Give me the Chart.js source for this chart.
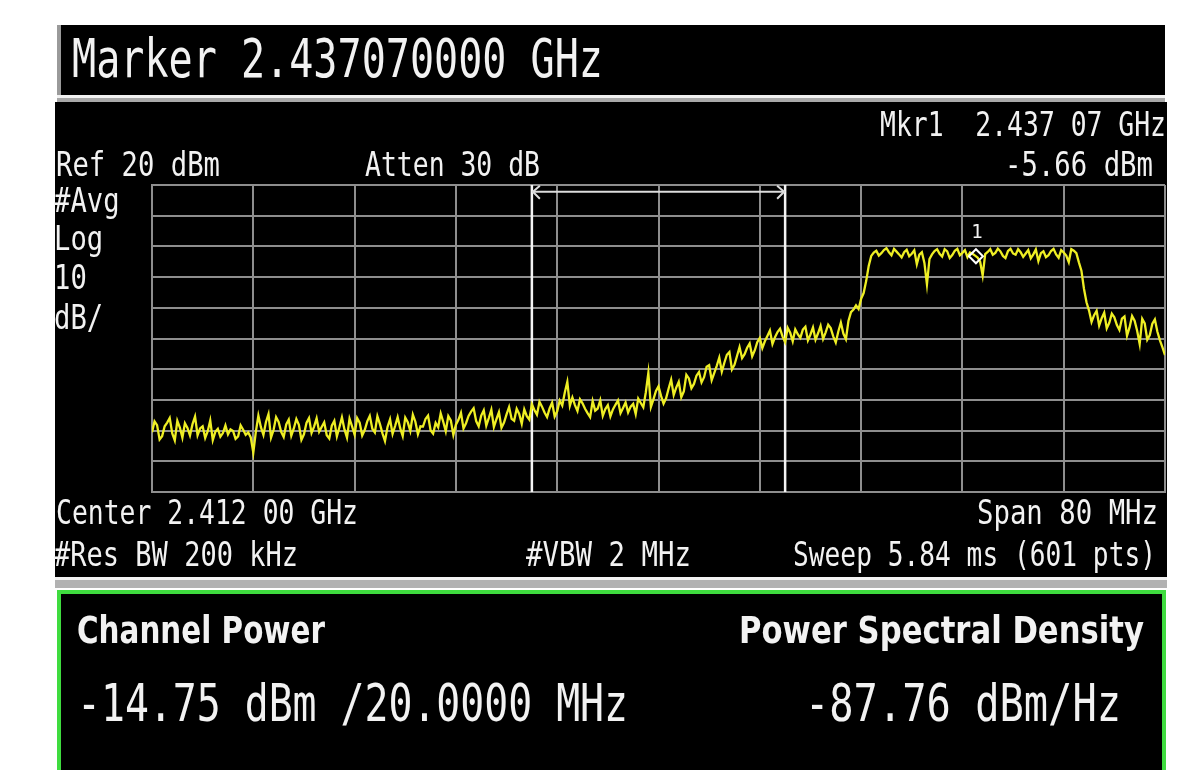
<!DOCTYPE html>
<html>
<head>
<meta charset="utf-8">
<title>Channel Power</title>
<script src="https://cdn.jsdelivr.net/npm/chart.js@4.4.1/dist/chart.umd.min.js"></script>
<style>
  html, body { margin: 0; padding: 0; background: #fff; }
  canvas { display: block; }
</style>
</head>
<body>
<canvas id="spectrum" width="1182" height="770"></canvas>
<script>
// sweep: center 2412 MHz, span 80 MHz, ref 20 dBm, 10 dB/div
const sweepStartMHz = 2372;
const sweepStopMHz = 2452;

// trace level, one value every 0.2 MHz
const levelDbm = [
  -60.5, -57.0, -58.2, -62.9, -61.8, -58.6, -57.4, -55.9, -60.9, -63.2,
  -56.8, -59.0, -62.3, -57.6, -59.1, -61.6, -57.9, -55.4, -61.5, -59.3,
  -58.6, -62.4, -60.2, -56.7, -63.1, -60.4, -59.4, -62.0, -60.8, -58.3,
  -61.2, -59.6, -60.1, -62.7, -61.9, -58.3, -59.7, -61.4, -60.6, -62.2,
  -67.2, -60.4, -55.1, -58.9, -61.4, -57.2, -54.6, -62.3, -59.8, -55.6,
  -57.2, -60.4, -62.1, -58.0, -56.4, -61.7, -59.3, -56.2, -58.1, -63.0,
  -61.2, -57.5, -55.9, -60.8, -58.7, -56.0, -60.4, -58.8, -57.3, -61.5,
  -62.6, -58.4, -56.8, -61.9, -58.9, -55.7, -59.6, -62.3, -56.1, -58.6,
  -61.3, -55.9, -57.4, -61.6, -59.8, -57.0, -55.2, -59.4, -60.6, -55.3,
  -57.9, -60.9, -63.4, -58.8, -56.3, -61.1, -58.5, -55.6, -59.2, -61.8,
  -55.8, -57.3, -60.1, -54.8, -57.1, -61.2, -58.6, -58.7, -56.2, -55.1,
  -59.9, -61.0, -57.5, -58.9, -54.4, -57.1, -60.2, -55.3, -56.7, -61.4,
  -58.1, -56.5, -54.2, -59.3, -57.6, -55.2, -53.8, -52.7, -56.9, -58.6,
  -55.1, -53.4, -58.4, -55.9, -53.2, -58.8, -56.3, -54.0, -59.1, -57.4,
  -54.7, -52.3, -56.2, -56.8, -52.9, -54.6, -57.8, -53.1, -55.3, -56.4,
  -51.4, -53.3, -54.8, -50.6, -52.2, -54.1, -55.6, -52.8, -50.9, -55.4,
  -53.7, -50.2, -51.8, -47.6, -44.1, -51.9, -49.2, -51.7, -53.6, -49.8,
  -51.1, -52.9, -54.3, -55.6, -50.4, -53.5, -52.8, -50.1, -55.2, -53.0,
  -51.7, -55.4, -53.1, -51.6, -50.2, -54.3, -52.6, -50.8, -54.1, -52.2,
  -51.3, -54.6, -49.6, -51.0, -52.4, -47.5, -41.2, -52.3, -49.8, -47.1,
  -45.6, -48.7, -51.2, -49.5, -46.3, -43.4, -48.4, -46.0, -44.1, -49.1,
  -47.2, -41.8, -43.0, -46.2, -44.8, -42.1, -40.9, -44.3, -42.6, -39.2,
  -38.7, -43.6, -41.3, -38.9, -36.2, -40.8, -37.9, -35.3, -34.4, -40.1,
  -38.6, -35.7, -32.8, -36.4, -35.1, -33.0, -31.6, -35.8, -33.9, -31.2,
  -29.8, -33.1, -30.9, -29.2, -27.4, -31.8, -29.6, -27.9, -26.8, -29.4,
  -31.2, -26.5, -28.1, -30.9, -27.0, -28.6, -29.8, -27.1, -26.2, -30.6,
  -28.7, -26.4, -30.4, -28.3, -25.9, -30.1, -28.0, -25.5, -26.6, -29.3,
  -31.3, -27.7, -24.8, -28.4, -30.2, -24.3, -21.4, -20.6, -19.2, -20.4,
  -17.1, -15.2, -11.3, -6.4, -3.1, -2.0, -1.4, -3.0, -2.2, -1.2,
  -0.6, -1.9, -2.9, -0.8, -1.7, -2.6, -3.6, -1.9, -1.1, -3.2,
  -2.4, -1.3, -5.8, -2.7, -1.9, -5.4, -12.4, -4.1, -2.6, -1.5,
  -0.9, -2.4, -3.3, -0.9, -1.6, -3.8, -2.8, -1.4, -0.8, -2.9,
  -2.1, -1.2, -3.5, -2.0, -2.4, -3.0, -3.6, -5.0, -9.5, -2.5,
  -1.8, -0.9, -2.7, -2.1, -0.7, -1.6, -3.1, -3.8, -1.5, -0.8,
  -2.3, -2.7, -0.9, -1.9, -3.4, -2.3, -1.2, -3.9, -2.6, -1.0,
  -4.8, -2.2, -1.6, -3.5, -2.9, -1.5, -0.8, -2.6, -3.7, -1.2,
  -2.0, -3.0, -5.1, -0.9, -1.4, -2.2, -5.2, -7.9, -13.8, -18.2,
  -20.9, -24.6, -22.4, -21.0, -25.8, -23.4, -21.6, -26.7, -24.9, -21.9,
  -23.1, -25.6, -27.2, -23.5, -22.8, -29.1, -26.4, -22.7, -24.2, -27.5,
  -31.8, -23.6, -25.1, -30.4, -28.9, -25.2, -23.8, -27.8, -30.6, -32.9,
  -35.4
];

const channelEdgesMHz = [2402, 2422];
const markerMHz = [2437.07];
const markerDbm = [-3.2];

const freqMHz = levelDbm.map((_, i) =>
  sweepStartMHz + i * (sweepStopMHz - sweepStartMHz) / (levelDbm.length - 1));

const MONO = '"DejaVu Sans Mono", monospace';
const SANS = '"DejaVu Sans", sans-serif';

// draw text squeezed to span x0..x1 (the analyzer font is narrow)
function fit(c, txt, x0, x1, y, size, family, weight) {
  c.font = (weight || 'normal') + ' ' + size + 'px ' + family;
  const w = c.measureText(txt).width;
  c.save();
  c.translate(x0, y);
  c.scale((x1 - x0) / w, 1);
  c.fillText(txt, 0, 0);
  c.restore();
}

function put(c, txt, x, y, size, sx) {
  c.font = size + 'px ' + MONO;
  c.save();
  c.translate(x, y);
  c.scale(sx, 1);
  c.fillText(txt, 0, 0);
  c.restore();
}

const panel = {
  id: 'panel',
  beforeDraw(chart) {
    const c = chart.ctx;
    c.save();
    c.fillStyle = '#fff';
    c.fillRect(0, 0, chart.width, chart.height);
    // title bar
    c.fillStyle = '#000';
    c.fillRect(57, 25, 1108, 70);
    c.fillStyle = '#9a9a9a';
    c.fillRect(57, 25, 4, 70);
    c.fillStyle = '#f2f2f2';
    c.fillRect(57, 95, 1108, 3);
    c.fillStyle = '#a8a8a8';
    c.fillRect(57, 98, 1108, 4);
    // trace panel
    c.fillStyle = '#000';
    c.fillRect(55, 102, 1112, 475);
    c.fillStyle = '#f2f2f2';
    c.fillRect(55, 577, 1112, 3);
    c.fillStyle = '#b2b2b2';
    c.fillRect(55, 580, 1112, 8);
    // result box
    c.fillStyle = '#000';
    c.fillRect(57, 590, 1109, 185);
    c.strokeStyle = '#3fdc3f';
    c.lineWidth = 4;
    c.strokeRect(59, 592, 1105, 190);
    c.restore();
  },
  afterDraw(chart) {
    const c = chart.ctx;
    const xs = chart.scales.x, ys = chart.scales.y;
    c.save();
    c.fillStyle = '#f2f2f2';
    c.textBaseline = 'alphabetic';

    fit(c, 'Marker 2.437070000 GHz', 72, 603, 77, 54, MONO);

    fit(c, 'Mkr1  2.437 07 GHz', 880, 1166, 136, 33, MONO);
    fit(c, 'Ref 20 dBm', 56, 220, 176, 34, MONO);
    fit(c, 'Atten 30 dB', 365, 540, 176, 34, MONO);
    fit(c, '-5.66 dBm', 1005, 1153, 176, 33, MONO);

    put(c, '#Avg', 54, 212, 34, 0.8);
    put(c, 'Log', 54, 250, 34, 0.8);
    put(c, '10', 54, 289, 34, 0.8);
    put(c, 'dB/', 54, 329, 34, 0.8);

    fit(c, 'Center 2.412 00 GHz', 56, 358, 524, 33, MONO);
    fit(c, 'Span 80 MHz', 977, 1158, 524, 33, MONO);
    fit(c, '#Res BW 200 kHz', 54, 298, 566, 33, MONO);
    fit(c, '#VBW 2 MHz', 526, 691, 566, 33, MONO);
    fit(c, 'Sweep 5.84 ms (601 pts)', 793, 1156, 566, 33, MONO);

    fit(c, 'Channel Power', 77, 325, 643, 37, SANS, 'bold');
    fit(c, 'Power Spectral Density', 739, 1144, 643, 37, SANS, 'bold');
    fit(c, '-14.75 dBm /20.0000 MHz', 77, 628, 721, 52, MONO);
    fit(c, '-87.76 dBm/Hz', 805, 1121, 721, 52, MONO);

    // arrowheads on the integration bandwidth bar
    const ya = ys.getPixelForValue(17.8);
    const xl = xs.getPixelForValue(channelEdgesMHz[0]);
    const xr = xs.getPixelForValue(channelEdgesMHz[1]);
    c.strokeStyle = '#dcdcdc';
    c.lineWidth = 2;
    c.beginPath();
    c.moveTo(xl + 8, ya - 6); c.lineTo(xl + 1, ya); c.lineTo(xl + 8, ya + 7);
    c.moveTo(xr - 8, ya - 6); c.lineTo(xr - 1, ya); c.lineTo(xr - 8, ya + 7);
    c.stroke();

    // marker number
    const mx = xs.getPixelForValue(markerMHz[0]);
    const my = ys.getPixelForValue(markerDbm[0]);
    c.font = '19px ' + MONO;
    c.textAlign = 'center';
    c.fillText('1', mx + 1, my - 18);
    c.restore();
  }
};

const datasets = [
  {
    label: 'Marker 1',
    data: markerMHz.map((f, i) => ({ x: f, y: markerDbm[i] })),
    showLine: false,
    pointStyle: 'rectRot',
    pointRadius: 7,
    pointBorderWidth: 2,
    pointBorderColor: '#ffffff',
    pointBackgroundColor: 'rgba(0,0,0,0)'
  },
  {
    label: 'Trace 1',
    data: levelDbm.map((v, i) => ({ x: freqMHz[i], y: v })),
    borderColor: '#eeee24',
    borderWidth: 2.3,
    pointRadius: 0,
    tension: 0
  },
  {
    label: 'Integration BW',
    data: [{ x: channelEdgesMHz[0], y: 17.8 }, { x: channelEdgesMHz[1], y: 17.8 }],
    borderColor: '#dcdcdc',
    borderWidth: 2,
    pointRadius: 0
  }
];
channelEdgesMHz.forEach(f => {
  datasets.push({
    label: 'Edge ' + f,
    data: [{ x: f, y: -80 }, { x: f, y: 20 }],
    borderColor: '#f4f4f4',
    borderWidth: 2.5,
    pointRadius: 0
  });
});

const config = {
  type: 'line',
  data: { datasets },
  options: {
    responsive: false,
    animation: false,
    events: [],
    layout: { padding: { left: 152, top: 185, right: 17, bottom: 278 } },
    plugins: { legend: { display: false }, tooltip: { enabled: false } },
    scales: {
      x: {
        type: 'linear',
        min: sweepStartMHz,
        max: sweepStopMHz,
        ticks: { display: false, stepSize: 8 },
        grid: { color: '#8e8e8e', lineWidth: 2, drawTicks: false },
        border: { color: '#8e8e8e', width: 2 }
      },
      y: {
        min: -80,
        max: 20,
        ticks: { display: false, stepSize: 10 },
        grid: { color: '#8e8e8e', lineWidth: 2, drawTicks: false },
        border: { color: '#8e8e8e', width: 2 }
      }
    }
  },
  plugins: [panel]
};

const spectrumChart = new Chart(document.getElementById('spectrum').getContext('2d'), config);
</script>
</body>
</html>
